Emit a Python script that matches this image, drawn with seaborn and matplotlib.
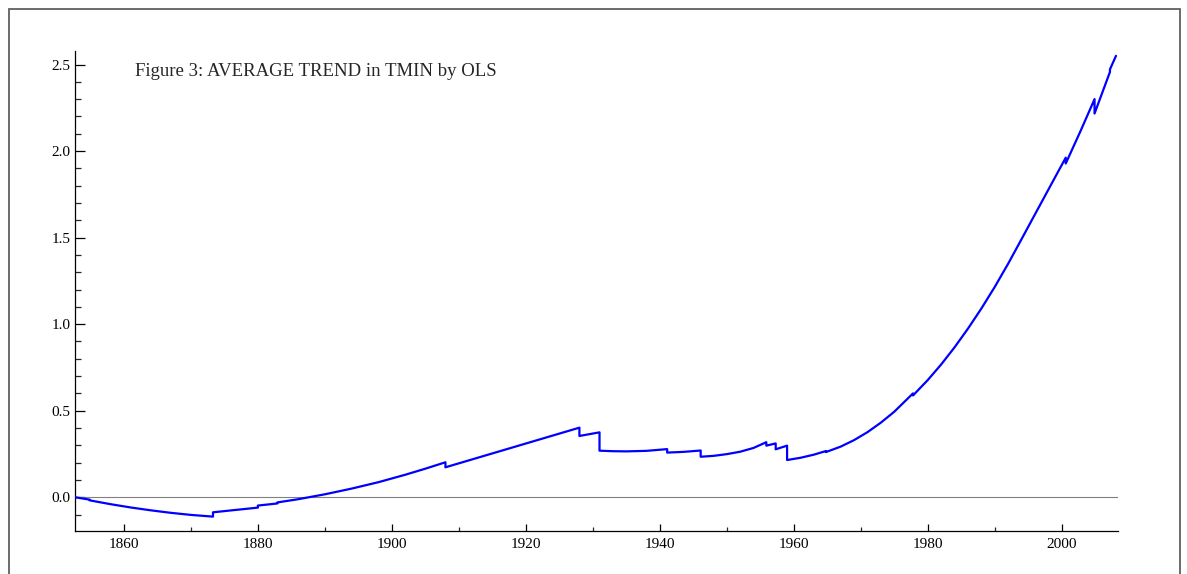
import numpy as np
import pandas as pd
import matplotlib
matplotlib.use("Agg")
import matplotlib.pyplot as plt
from matplotlib.patches import Rectangle
from matplotlib.ticker import MultipleLocator, FormatStrFormatter
import seaborn as sns

# ---- data ----
years = [1852.7, 1854.9, 1854.9, 1858.0, 1861.0, 1864.0, 1867.0, 1870.0, 1873.3, 1873.3,
         1876.5, 1880.0, 1880.0, 1882.9, 1882.9, 1886.0, 1890.0, 1894.0, 1898.0, 1902.0,
         1905.0, 1908.0, 1908.0, 1928.0, 1928.0, 1931.0, 1931.0, 1933.0, 1935.0, 1938.0,
         1941.1, 1941.1, 1943.5, 1946.1, 1946.1, 1948.0, 1950.0, 1952.0, 1954.0, 1955.9,
         1955.9, 1957.3, 1957.3, 1959.0, 1959.0, 1961.0, 1963.0, 1964.8, 1964.8, 1967.0,
         1969.0, 1971.0, 1973.0, 1975.0, 1977.8, 1977.8, 1980.0, 1982.0, 1984.0, 1986.0,
         1988.0, 1990.0, 1992.0, 1994.0, 1996.0, 1998.2, 2000.6, 2000.6, 2002.8, 2004.9,
         2004.9, 2007.2, 2007.2, 2008.1]
trend = [0.000, -0.014, -0.018, -0.040, -0.059, -0.0755, -0.090, -0.102, -0.112, -0.087,
         -0.074, -0.060, -0.048, -0.036, -0.030, -0.0115, 0.017, 0.050, 0.087, 0.130,
         0.165, 0.202, 0.173, 0.402, 0.354, 0.375, 0.269, 0.266, 0.265, 0.268,
         0.278, 0.258, 0.262, 0.270, 0.234, 0.239, 0.249, 0.263, 0.285, 0.318,
         0.298, 0.311, 0.277, 0.298, 0.215, 0.228, 0.246, 0.267, 0.261, 0.2925,
         0.330, 0.376, 0.431, 0.494, 0.600, 0.588, 0.677, 0.767, 0.866, 0.974,
         1.090, 1.215, 1.349, 1.491, 1.634, 1.791, 1.962, 1.928, 2.115, 2.300,
         2.217, 2.457, 2.472, 2.550]

title_text = "Figure 3: AVERAGE TREND in TMIN by OLS"
x_limits = (1852.7, 2008.4)
y_limits = (-0.195, 2.578)

df = pd.DataFrame({"year": years, "trend": trend})

sns.set_style("ticks")
plt.rcParams["font.family"] = ["Liberation Serif", "DejaVu Serif"]

W, H = 1187, 574
fig = plt.figure(figsize=(W / 100, H / 100), dpi=100)
ax = fig.add_axes([75 / W, 1 - 531 / H, (1118 - 75) / W, (531 - 51) / H])

ax.axhline(0, color="#808080", lw=0.8, zorder=1)
sns.lineplot(data=df, x="year", y="trend", estimator=None, sort=False,
             color="#0000FF", lw=1.6, ax=ax, zorder=3)

ax.set_xlim(*x_limits)
ax.set_ylim(*y_limits)
ax.set_xlabel("")
ax.set_ylabel("")

ax.xaxis.set_major_locator(MultipleLocator(20))
ax.xaxis.set_minor_locator(MultipleLocator(10))
ax.yaxis.set_major_locator(MultipleLocator(0.5))
ax.yaxis.set_minor_locator(MultipleLocator(0.1))
ax.yaxis.set_major_formatter(FormatStrFormatter("%.1f"))

for s in ["top", "right"]:
    ax.spines[s].set_visible(False)
for s in ["left", "bottom"]:
    ax.spines[s].set_linewidth(0.9)
    ax.spines[s].set_color("black")

ax.tick_params(axis="x", which="major", direction="in", length=5, width=0.9,
               labelsize=11, pad=5, colors="black")
ax.tick_params(axis="x", which="minor", direction="in", length=3, width=0.9)
ax.tick_params(axis="y", which="major", direction="in", length=7, width=0.9,
               labelsize=11, pad=3, colors="black")
ax.tick_params(axis="y", which="minor", direction="in", length=4.3, width=0.9)

fig.text(135 / W, 1 - 76 / H, title_text, fontsize=13.5, va="baseline", ha="left")

frame = Rectangle((9 / W, -0.05), (1180 - 9) / W, (H - 9) / H + 0.05,
                  transform=fig.transFigure, fill=False, edgecolor="#606060", lw=1.3)
fig.patches.append(frame)

fig.savefig("out.png", dpi=100)
